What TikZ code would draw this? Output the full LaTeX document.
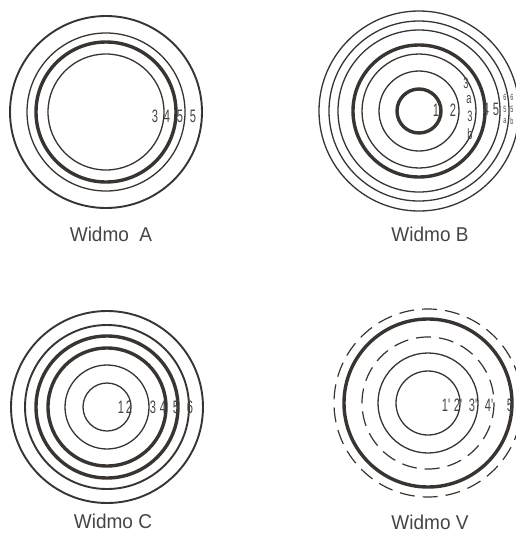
\documentclass[tikz,border=0pt]{standalone}
\usepackage{fontspec}
\setmainfont{Liberation Sans}
\newfontfamily\narrowfont[FakeStretch=0.62]{Liberation Sans}
\newfontfamily\capfont[FakeStretch=0.95]{Liberation Sans}
\definecolor{ink}{HTML}{3A3431}
\definecolor{txt}{HTML}{454545}
\begin{document}
\begin{tikzpicture}[x=1pt,y=-1pt,
  thinring/.style={draw=ink,line width=1.3pt},
  midring/.style={draw=ink,line width=1.9pt},
  thickring/.style={draw=ink,line width=3.4pt},
  dashring/.style={draw=ink,line width=1.2pt,dash pattern=on 15pt off 8pt},
  num/.style={font=\narrowfont\fontsize{18}{18}\selectfont, text=txt, inner sep=0pt},
  stacknum/.style={font=\narrowfont\fontsize{15}{15}\selectfont, text=txt, inner sep=0pt},
  smallnum/.style={font=\narrowfont\fontsize{9}{9}\selectfont, text=txt, inner sep=0pt},
  caption/.style={font=\capfont\fontsize{20}{20}\selectfont, text=txt, inner sep=0pt}]
\useasboundingbox (0,0) rectangle (516,533);
\fill[white] (0,0) rectangle (516,533);

% ---------- Widmo A ----------
\coordinate (A) at (106,112);
\draw[midring]   (A) circle[radius=96];
\draw[thinring]  (A) circle[radius=79];
\draw[thickring] (A) circle[radius=70];
\draw[thinring]  (A) circle[radius=58];
\node[num] (a3) at (155,116) {3};
\node[num] (a4) at (167,116) {4};
\node[num] (a5) at (180,116) {5};
\node[num] (a6) at (193,116) {5};
\node[caption] (capA) at (111,234) {Widmo\ \ A};

% ---------- Widmo B ----------
\coordinate (B) at (419,111);
\draw[thinring]  (B) circle[radius=100];
\draw[thinring]  (B) circle[radius=90];
\draw[thinring]  (B) circle[radius=81];
\draw[thickring] (B) circle[radius=66];
\draw[thinring]  (B) circle[radius=57];
\draw[thinring]  (B) circle[radius=40];
\draw[thickring] (B) circle[radius=22];
\node[num] (b1) at (436,110) {1};
\node[num] (b2) at (453,110) {2};
\node[stacknum] (b3a) at (466,83) {3};
\node[stacknum] (b3an) at (469,100) {a};
\node[stacknum] (b3b) at (470,116) {3};
\node[stacknum] (b3bn) at (470,134) {b};
\node[num] (b4) at (486,109) {4};
\node[num] (b5) at (496,109) {5};
\node[smallnum] (b6a) at (505,97) {6};
\node[smallnum] (b6an) at (505,109) {5};
\node[smallnum] (b6bn) at (505,121) {a};
\node[smallnum] (b7a) at (512,97) {6};
\node[smallnum] (b7an) at (512,109) {5};
\node[smallnum] (b7bn) at (512,121) {b};
\node[caption] (capB) at (430,234) {Widmo B};

% ---------- Widmo C ----------
\coordinate (C) at (107,407);
\draw[midring]   (C) circle[radius=96];
\draw[midring]   (C) circle[radius=82];
\draw[thickring] (C) circle[radius=71];
\draw[thickring] (C) circle[radius=59];
\draw[thinring]  (C) circle[radius=42];
\draw[thinring]  (C) circle[radius=24];
\node[num] (c1) at (121,407) {1};
\node[num] (c2) at (129,407) {2};
\node[num] (c3) at (153,407) {3};
\node[num] (c4) at (163,407) {4};
\node[num] (c5) at (176,407) {5};
\node[num] (c6) at (190,407) {6};
\node[caption] (capC) at (113,521) {Widmo C};

% ---------- Widmo V ----------
\coordinate (V) at (428,403);
\draw[dashring]  (V) circle[radius=94];
\draw[thickring] (V) circle[radius=84];
\draw[dashring]  (V) circle[radius=66];
\draw[thinring]  (V) circle[radius=50];
\draw[thinring]  (V) circle[radius=32];
\node[num] (v1) at (446,405) {1'};
\node[num] (v2) at (458,405) {2'};
\node[num] (v3) at (473,405) {3'};
\node[num] (v4) at (489,405) {4'};
\node[num] (v5) at (510,405) {5};
\node[caption] (capV) at (430,522) {Widmo V};
\end{tikzpicture}
\end{document}
